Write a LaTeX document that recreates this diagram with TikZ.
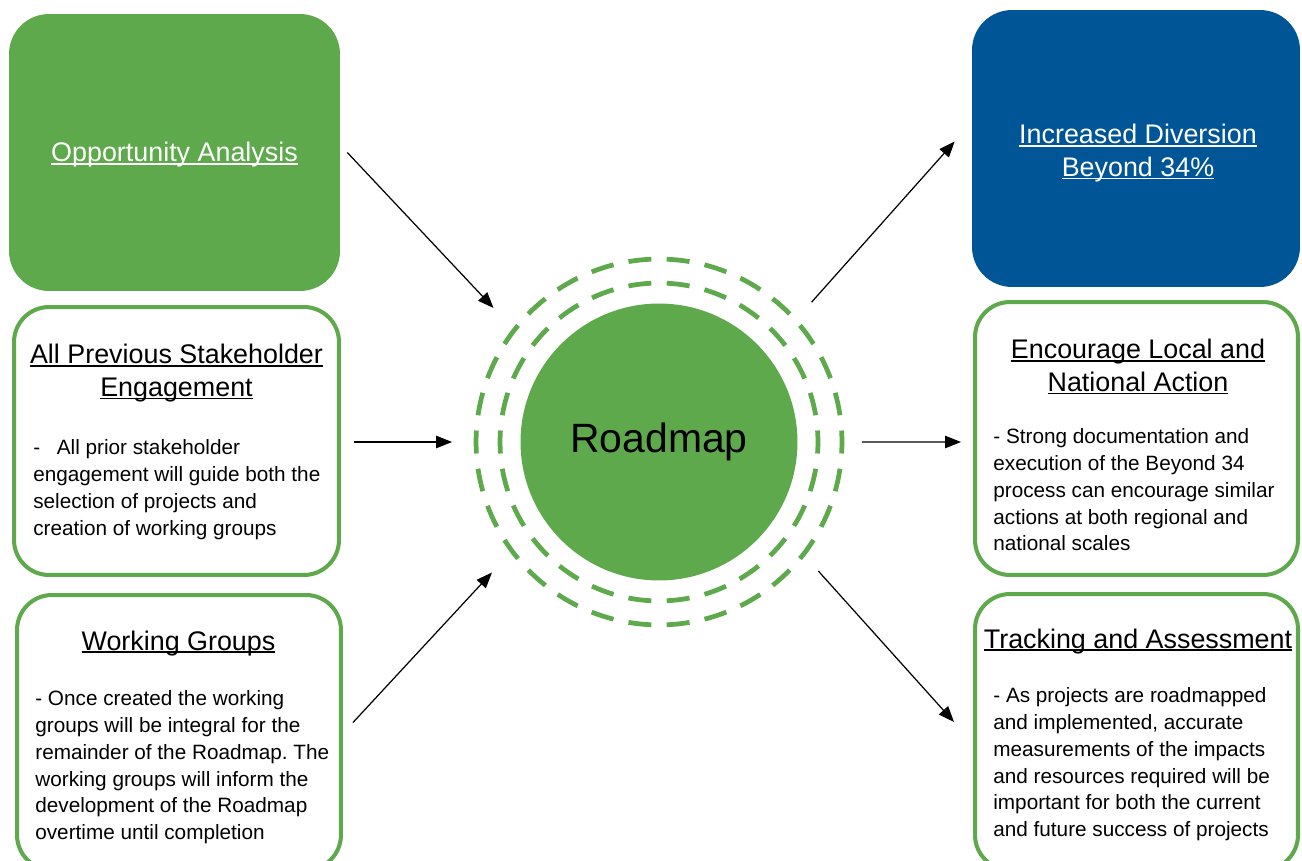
\documentclass[tikz,border=0pt]{standalone}
\usepackage{fontspec}
\setmainfont{Liberation Sans}
\usepackage{tikz}
\usetikzlibrary{arrows.meta,shapes,positioning,calc}
\usepackage{xcolor}

\definecolor{leaf}{RGB}{94,169,75}
\definecolor{deepblue}{RGB}{0,85,150}
\newcommand{\headfont}{\fontsize{15.3}{18.7}\selectfont}
\newcommand{\bodyfont}{\fontsize{11.8}{15.3}\selectfont}
% 带下划线的标题
\newcommand{\uln}[1]{\setbox0\hbox{#1}\rlap{\rule[-1.6pt]{\wd0}{0.75pt}}\box0}
\frenchspacing

\begin{document}
\begin{tikzpicture}[x=0.02cm,y=-0.02cm,
    solidbox/.style={rounded corners=0.8cm, minimum width=6.62cm, minimum height=5.54cm, inner sep=0},
    linebox/.style={draw=leaf, line width=2.3pt, rounded corners=0.7cm,
        minimum width=6.48cm, minimum height=5.44cm, inner sep=0},
    heading/.style={font=\headfont, align=center, inner sep=0},
    body/.style={font=\bodyfont, align=left, anchor=north west, inner sep=0},
    ring/.style={draw=leaf, line width=2.7pt},
    link/.style={-{Triangle[length=9pt,width=7pt]}, line width=0.7pt}]
    \useasboundingbox (0,0) rectangle (1302,861);

    % 中心圆
    \node[circle, fill=leaf, minimum size=5.54cm, inner sep=0,
        font=\fontsize{23.3}{28}\selectfont] (road) at (659,442) {Roadmap};
    % 虚线圆环
    \foreach \a in {0,13.846,...,350} {
        \draw[ring] ([shift={({\a-4.15}:3.18cm)}]road.center)
            arc[start angle=\a-4.15, delta angle=8.3, radius=3.18cm];
    }
    \foreach \a in {0,12,...,350} {
        \draw[ring] ([shift={({\a-3.6}:3.66cm)}]road.center)
            arc[start angle=\a-3.6, delta angle=7.2, radius=3.66cm];
    }

    % 左侧
    \node[solidbox, fill=leaf] (opp) at (174.5,152.5) {};
    \node[heading, text=white, anchor=base] (opp-title) at (174.5,162) {\uln{Opportunity Analysis}};

    \node[linebox, minimum width=6.5cm, minimum height=5.36cm] (stake) at (176.5,441) {};
    \node[heading, anchor=north] (stake-title) at (176.5,344)
        {\uln{All Previous Stakeholder}\\\uln{Engagement}};
    \node[body] (stake-text) at (33,439)
        {-\hspace{0.8em}All prior stakeholder\\
         engagement will guide both the\\
         selection of projects and\\
         creation of working groups};

    \node[linebox, minimum width=6.48cm, minimum height=5.5cm] (work) at (179,732.5) {};
    \node[heading, anchor=base] (work-title) at (178.5,650) {\uln{Working Groups}};
    \node[body] (work-text) at (35,690)
        {- Once created the working\\
         groups will be integral for the\\
         remainder of the Roadmap. The\\
         working groups will inform the\\
         development of the Roadmap\\
         overtime until completion};

    % 右侧
    \node[solidbox, fill=deepblue, minimum width=6.56cm] (div) at (1136,148.5) {};
    \node[heading, text=white, anchor=north] (div-title) at (1138,124)
        {\uln{Increased Diversion}\\\uln{Beyond 34\%}};

    \node[linebox, minimum width=6.46cm, minimum height=5.46cm] (enc) at (1136.5,438.5) {};
    \node[heading, anchor=north] (enc-title) at (1138,339)
        {\uln{Encourage Local and}\\\uln{National Action}};
    \node[body] (enc-text) at (993,428)
        {- Strong documentation and\\
         execution of the Beyond 34\\
         process can encourage similar\\
         actions at both regional and\\
         national scales};

    \node[linebox, minimum width=6.46cm, minimum height=5.52cm] (track) at (1136.5,732) {};
    \node[heading, anchor=base] (track-title) at (1138,648) {\uln{Tracking and Assessment}};
    \node[body] (track-text) at (993,687)
        {- As projects are roadmapped\\
         and implemented, accurate\\
         measurements of the impacts\\
         and resources required will be\\
         important for both the current\\
         and future success of projects};

    % 箭头
    \draw[link] ($(opp.east)+(7,0)$) -- ($(road)+(141:4.26cm)$);
    \draw[link] ($(stake.east)+(13,1)$) -- ($(road)+(180:4.14cm)$);
    \draw[link] ($(work.east)+(10,-10)$) -- ($(road)+(218:4.24cm)$);
    \draw[link] ($(road)+(42.5:4.14cm)$) -- ($(div.west)+(-17,-7)$);
    \draw[link] ($(road)+(0:4.06cm)$) -- ($(enc.west)+(-12,3.5)$);
    \draw[link] ($(road)+(321:4.1cm)$) -- ($(track.west)+(-19,-10)$);
\end{tikzpicture}
\end{document}
